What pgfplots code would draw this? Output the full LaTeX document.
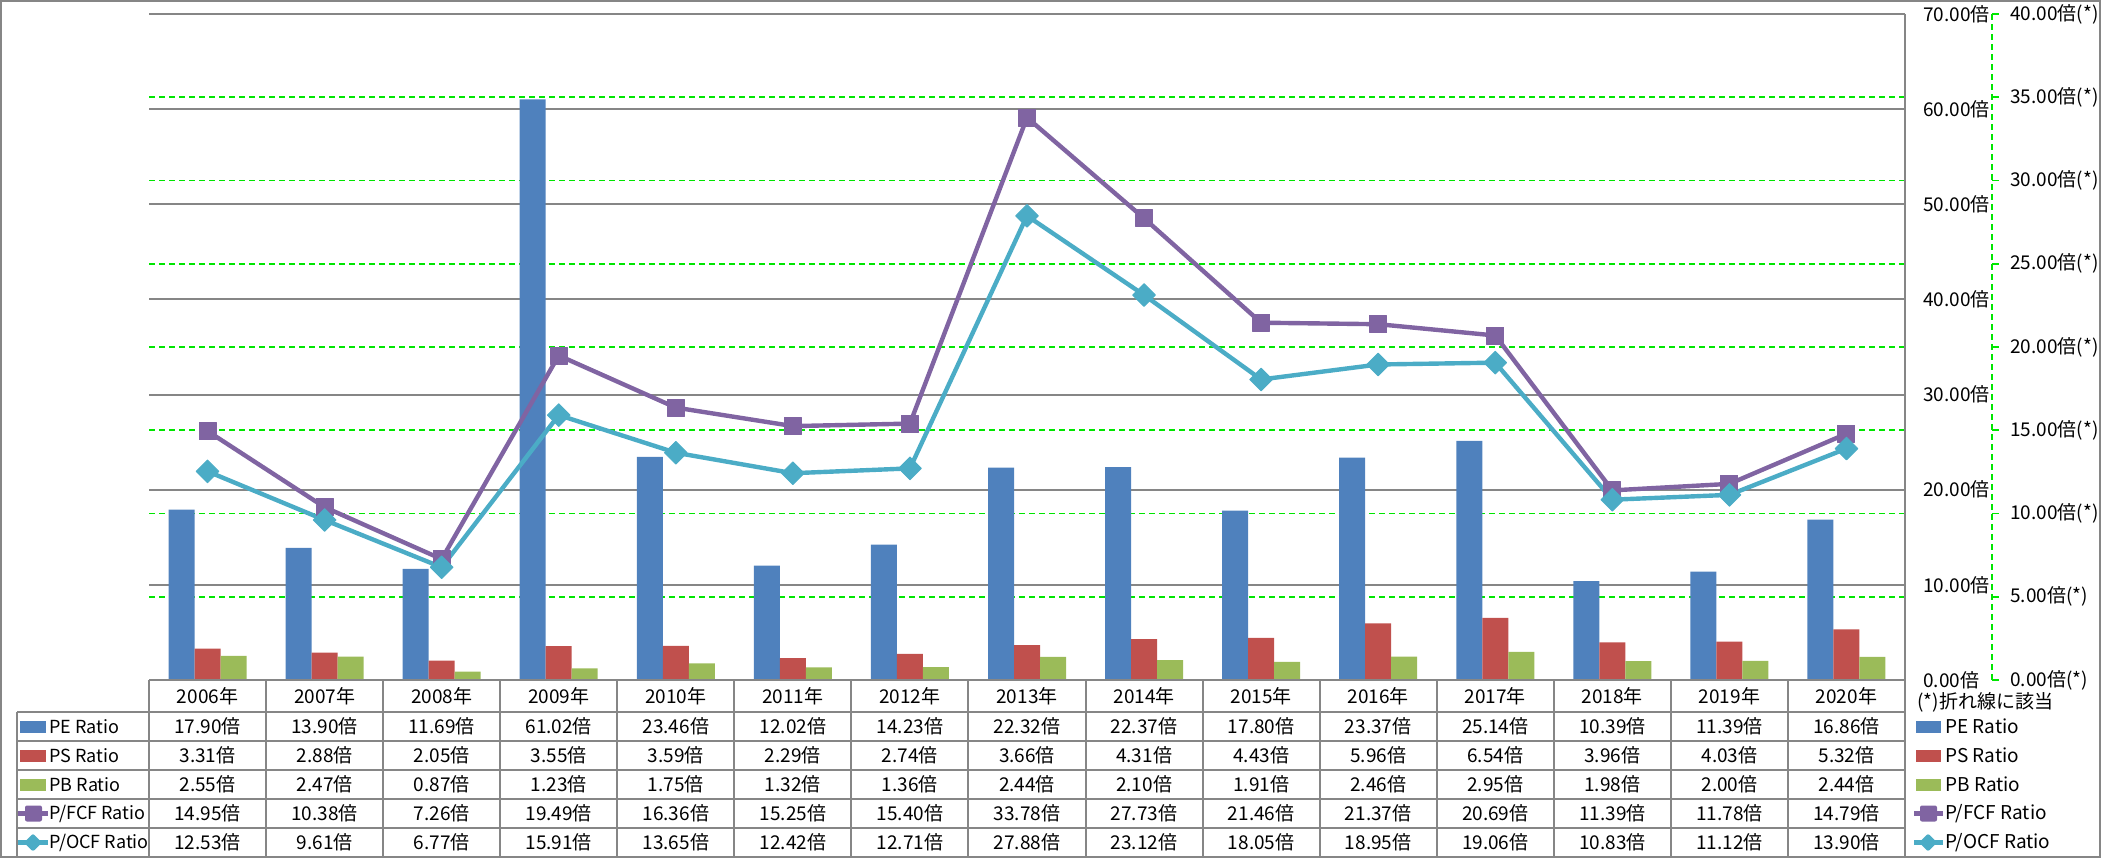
\documentclass[border=0pt]{standalone}
\usepackage{pgfplots}
\usepackage{pgfplotstable}
\pgfplotsset{compat=1.18}
\usepackage{fontspec}
\setmainfont{Noto Sans CJK JP}
\definecolor{peblue}{HTML}{4F81BD}
\definecolor{psred}{HTML}{C0504D}
\definecolor{pbgreen}{HTML}{9BBB59}
\definecolor{fcfpurple}{HTML}{8064A2}
\definecolor{ocfcyan}{HTML}{4BACC6}
\definecolor{gridgray}{HTML}{868686}
\definecolor{gridgreen}{HTML}{00E600}
\pgfkeys{/pgf/number format/assume math mode=true}
\pgfplotstableread{
year pe ps pb fcf ocf
2006 17.90 3.31 2.55 14.95 12.53
2007 13.90 2.88 2.47 10.38 9.61
2008 11.69 2.05 0.87 7.26 6.77
2009 61.02 3.55 1.23 19.49 15.91
2010 23.46 3.59 1.75 16.36 13.65
2011 12.02 2.29 1.32 15.25 12.42
2012 14.23 2.74 1.36 15.40 12.71
2013 22.32 3.66 2.44 33.78 27.88
2014 22.37 4.31 2.10 27.73 23.12
2015 17.80 4.43 1.91 21.46 18.05
2016 23.37 5.96 2.46 21.37 18.95
2017 25.14 6.54 2.95 20.69 19.06
2018 10.39 3.96 1.98 11.39 10.83
2019 11.39 4.03 2.00 11.78 11.12
2020 16.86 5.32 2.44 14.79 13.90
}\ratios
\newcommand\chartfont{\fontsize{9.5pt}{11.5pt}\selectfont}
\newcommand\keyfont{\fontsize{9pt}{11pt}\selectfont}
\pgfplotsset{
  base/.style={scale only axis, width=878pt, height=333pt,
    at={(74.5pt,-340pt)}, anchor=south west,
    xmin=-0.5, xmax=14.5, clip=false,
    tick label style={font=\chartfont, text=black}},
}
\begin{document}
\chartfont
\begin{tikzpicture}[font=\chartfont]
% secondary grid and labels
\begin{axis}[base, ymin=0, ymax=40, ytick={0,5,...,40},
  ymajorgrids, grid style={draw=gridgreen, line width=0.8pt, dash pattern=on 3pt off 2pt},
  xtick=\empty, axis line style={draw=none}, major tick length=0pt,
  yticklabel pos=right,
  yticklabel style={anchor=west, inner sep=0pt, xshift=52.5pt},
  yticklabel={\pgfmathprintnumber[fixed,fixed zerofill,precision=2]{\tick}倍(*)}]
\end{axis}
% primary: bars
\begin{axis}[base, ymin=0, ymax=70, ytick={0,10,...,70},
  ymajorgrids, grid style={draw=gridgray, line width=1pt},
  xtick=\empty, axis line style={draw=none}, major tick length=0pt,
  yticklabel pos=right,
  yticklabel style={anchor=west, inner sep=0pt, xshift=9pt},
  yticklabel={\pgfmathprintnumber[fixed,fixed zerofill,precision=2]{\tick}倍},
  ybar=0pt, bar width=13pt]
\addplot[fill=peblue, draw=none] table[x expr=\coordindex, y=pe]{\ratios};
\addplot[fill=psred, draw=none] table[x expr=\coordindex, y=ps]{\ratios};
\addplot[fill=pbgreen, draw=none] table[x expr=\coordindex, y=pb]{\ratios};
\end{axis}
% secondary: lines
\begin{axis}[base, ymin=0, ymax=40, hide axis]
\addplot[fcfpurple, line width=2.2pt, line join=round, mark=square*,
  mark size=4.25pt, mark options={fill=fcfpurple, line width=0.5pt, rounded corners=0.8pt}]
  table[x expr=\coordindex, y=fcf]{\ratios};
\addplot[ocfcyan, line width=2.2pt, line join=round, mark=square*,
  mark size=4pt, mark options={fill=ocfcyan, line width=0.5pt, rotate=45, rounded corners=0.8pt}]
  table[x expr=\coordindex, y=ocf]{\ratios};
\end{axis}
\begin{scope}[x=0.5pt,y=-0.5pt]
% table lines
\draw[gridgray, line width=1pt] (1905,14) -- (1905,857);
\draw[gridgray, line width=1pt] (149,680) -- (1905,680);
\foreach \yy in {712,741,770,799,828}
  \draw[gridgray, line width=1pt] (17,\yy) -- (1905,\yy);
\draw[gridgray, line width=1pt] (17,712) -- (17,857);
\foreach \k in {0,...,14}
  \draw[gridgray, line width=1pt] (149+117.0667*\k,680) -- (149+117.0667*\k,857);
% outer border
\draw[gridgray, line width=1pt] (1,1) rectangle (2100,857);
% secondary axis line
\draw[gridgreen, line width=0.8pt, dash pattern=on 3pt off 2pt] (1992,14) -- (1992,680);
\foreach \k in {0,...,8}
  \draw[gridgreen, line width=0.8pt] (1992,680-83.25*\k) -- (1999,680-83.25*\k);
% table text
\foreach \i in {0,...,14}{
  \pgfmathsetmacro\cx{149+117.0667*(\i+0.5)}
  \pgfplotstablegetelem{\i}{year}\of\ratios
  \node[inner sep=0pt] at (\cx,696) {\pgfplotsretval 年};
  \foreach \col/\row in {pe/0,ps/1,pb/2,fcf/3,ocf/4}{
    \pgfplotstablegetelem{\i}{\col}\of\ratios
    \node[inner sep=0pt] at (\cx,726.5+29*\row)
      {\pgfmathprintnumber[fixed,fixed zerofill,precision=2]{\pgfplotsretval}倍};
  }
}
% left legend keys
\fill[peblue] (20,720.5) rectangle (46,732.5);
\fill[psred] (20,749.5) rectangle (46,761.5);
\fill[pbgreen] (20,778.5) rectangle (46,790.5);
\draw[fcfpurple, line width=2.2pt] (18,813.5) -- (48,813.5);
\fill[fcfpurple, rounded corners=1pt] (25,805.5) rectangle (42,821.5);
\draw[ocfcyan, line width=2.2pt] (18,842.5) -- (48,842.5);
\fill[ocfcyan, rounded corners=1pt] (24,842.5) -- (33,833.5) -- (42,842.5) -- (33,851.5) -- cycle;
\begin{scope}[every node/.style={anchor=west, inner sep=0pt, font=\keyfont}]
\node at (49,726.5) {PE Ratio};
\node at (49,755.5) {PS Ratio};
\node at (49,784.5) {PB Ratio};
\node at (49,813.5) {P/FCF Ratio};
\node at (49,842.5) {P/OCF Ratio};
\end{scope}
% right legend
\node[anchor=west, inner sep=0pt] at (1917,702) {(*)折れ線に該当};
\fill[peblue] (1916,720.5) rectangle (1941,732.5);
\fill[psred] (1916,749.5) rectangle (1941,761.5);
\fill[pbgreen] (1916,778.5) rectangle (1941,790.5);
\draw[fcfpurple, line width=2.2pt] (1914,813.5) -- (1943,813.5);
\fill[fcfpurple, rounded corners=1pt] (1920,805.5) rectangle (1937,821.5);
\draw[ocfcyan, line width=2.2pt] (1914,842.5) -- (1943,842.5);
\fill[ocfcyan, rounded corners=1pt] (1919,842.5) -- (1928,833.5) -- (1937,842.5) -- (1928,851.5) -- cycle;
\node[anchor=west, inner sep=0pt] at (1945,726.5) {PE Ratio};
\node[anchor=west, inner sep=0pt] at (1945,755.5) {PS Ratio};
\node[anchor=west, inner sep=0pt] at (1945,784.5) {PB Ratio};
\node[anchor=west, inner sep=0pt] at (1945,813.5) {P/FCF Ratio};
\node[anchor=west, inner sep=0pt] at (1945,842.5) {P/OCF Ratio};
\pgfresetboundingbox
\path[use as bounding box] (0,0) rectangle (2101,858);
\end{scope}
\end{tikzpicture}
\end{document}
